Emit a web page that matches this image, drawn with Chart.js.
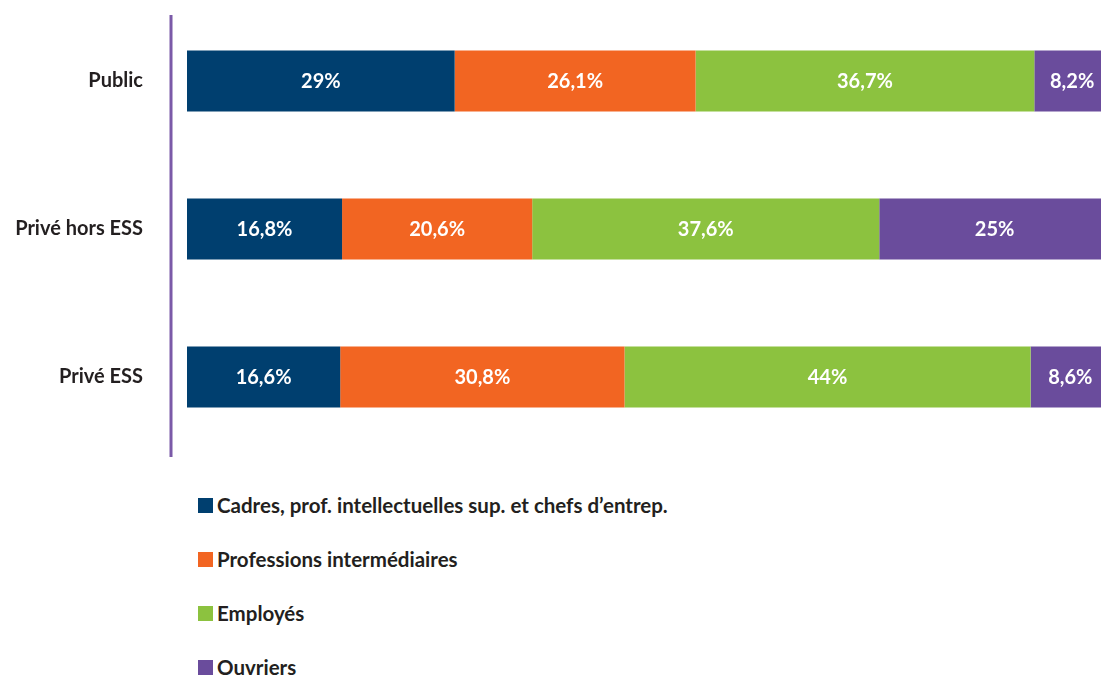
<!DOCTYPE html>
<html lang="fr">
<head>
<meta charset="utf-8">
<title>Catégories socioprofessionnelles par secteur</title>
<script src="https://cdn.jsdelivr.net/npm/chart.js@4/dist/chart.umd.min.js"></script>
<style>
  html, body { margin: 0; padding: 0; background: #fff; overflow: hidden; }
  body { width: 1101px; height: 677px; position: relative; font-family: Lato, "Open Sans", sans-serif; }
  #wrap { position: absolute; left: 0; top: 0; width: 1112px; height: 470px; }
  #legend { position: absolute; left: 198px; top: 478px; }
  .item { display: flex; align-items: center; height: 54px; font-weight: 700; font-size: 20.5px; color: #231f20; }
  .box { width: 15px; height: 15px; margin-right: 4px; flex: none; }
</style>
</head>
<body>
<div id="wrap"><canvas id="csChart" width="1112" height="470"></canvas></div>
<div id="legend"></div>
<script>
  // Secteurs (lignes) et catégories (segments)
  const sectors = ["Public", "Privé hors ESS", "Privé ESS"];
  const seriesNames = [
    "Cadres, prof. intellectuelles sup. et chefs d’entrep.",
    "Professions intermédiaires",
    "Employés",
    "Ouvriers"
  ];
  const cadres = [29, 16.8, 16.6];
  const profInter = [26.1, 20.6, 30.8];
  const employes = [36.7, 37.6, 44];
  const ouvriers = [8.2, 25, 8.6];
  const seriesColors = ["#003f6f", "#f26522", "#8cc23f", "#6a4c9c"];

  const axisColor = "#7b5aa8";
  const textColor = "#231f20";

  const seriesValues = [cadres, profInter, employes, ouvriers];

  // Pourcentage à la française : virgule décimale
  const fmt = v => String(v).replace(".", ",") + "%";

  // Étiquettes blanches au centre de chaque segment
  const segmentLabels = {
    id: "segmentLabels",
    afterDatasetsDraw(chart) {
      const ctx = chart.ctx;
      ctx.save();
      ctx.font = "700 20px Lato, 'Open Sans', sans-serif";
      ctx.fillStyle = "#ffffff";
      ctx.textAlign = "center";
      ctx.textBaseline = "middle";
      chart.data.datasets.forEach((ds, i) => {
        chart.getDatasetMeta(i).data.forEach((bar, j) => {
          const cx = (bar.x + bar.base) / 2;
          ctx.fillText(fmt(ds.data[j]), cx, bar.y + 1);
        });
      });
      ctx.restore();
    }
  };

  // Trait vertical violet à gauche des barres
  const sideRule = {
    id: "sideRule",
    beforeDatasetsDraw(chart) {
      const { ctx, chartArea } = chart;
      const x = chartArea.left - 16;
      ctx.save();
      ctx.strokeStyle = axisColor;
      ctx.lineWidth = 3;
      ctx.beginPath();
      ctx.moveTo(x, chartArea.top + 8);
      ctx.lineTo(x, chartArea.bottom + 6);
      ctx.stroke();
      ctx.restore();
    }
  };

  const ctx = document.getElementById("csChart").getContext("2d");
  new Chart(ctx, {
    type: "bar",
    data: {
      labels: sectors,
      datasets: seriesNames.map((name, i) => ({
        label: name,
        data: seriesValues[i],
        backgroundColor: seriesColors[i],
        borderWidth: 0,
        barPercentage: 0.412,
        categoryPercentage: 1
      }))
    },
    options: {
      indexAxis: "y",
      responsive: false,
      animation: false,
      layout: { padding: { top: 7, bottom: 19, left: 0, right: 2 } },
      plugins: {
        legend: { display: false },
        tooltip: { enabled: false }
      },
      scales: {
        x: {
          stacked: true,
          min: 0,
          max: 100,
          display: false
        },
        y: {
          stacked: true,
          afterFit(scale) {
            // largeur fixe pour la colonne des libellés, sans marge verticale
            scale.width = 187;
            scale.paddingTop = 0;
            scale.paddingBottom = 0;
          },
          grid: { display: false, drawTicks: false },
          border: { display: false },
          ticks: {
            padding: 44,
            color: textColor,
            font: { family: "Lato, 'Open Sans', sans-serif", size: 20, weight: "700" }
          }
        }
      }
    },
    plugins: [sideRule, segmentLabels]
  });

  // Légende verticale sous le graphique
  const legend = document.getElementById("legend");
  seriesNames.forEach((name, i) => {
    const row = document.createElement("div");
    row.className = "item";
    row.innerHTML = `<span class="box" style="background:${seriesColors[i]}"></span><span>${name}</span>`;
    legend.appendChild(row);
  });
</script>
</body>
</html>
